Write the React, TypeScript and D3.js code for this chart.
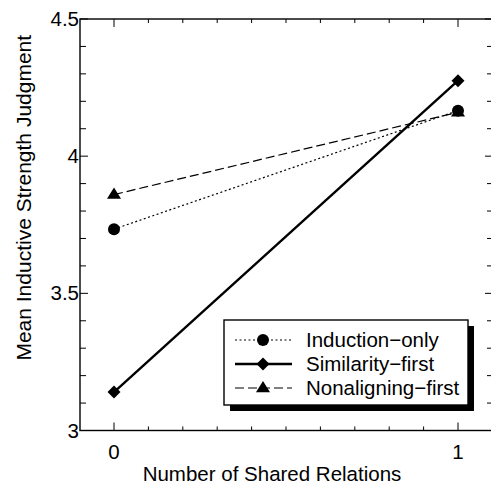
import React from 'react';
import * as d3 from 'd3';

// x = number of shared relations
const relations = [0, 1];
const seriesNames = ['Induction\u2212only', 'Similarity\u2212first', 'Nonaligning\u2212first'];
const inductionOnly = [3.734, 4.166];
const similarityFirst = [3.14, 4.275];
const nonaligningFirst = [3.86, 4.16];

const yTicksMajor = [3, 3.5, 4, 4.5];
const xTicksMajor = [0, 1];

const W = 491;
const H = 486;
const margin = { top: 19, right: -3, bottom: 55.5, left: 80 };
const FONT = 'Liberation Sans, Arial, Helvetica, sans-serif';

function Marker({ kind, x, y }: { kind: string; x: number; y: number }) {
  if (kind === 'circle') return <circle cx={x} cy={y} r={6} fill="#000" />;
  if (kind === 'diamond') {
    const s = 6.5;
    return <path d={`M${x},${y - s}L${x + s},${y}L${x},${y + s}L${x - s},${y}Z`} fill="#000" />;
  }
  const s = 7;
  return <path d={`M${x},${y - s}L${x + s},${y + s * 0.6}L${x - s},${y + s * 0.6}Z`} fill="#000" />;
}

export default function App() {
  // 0 and 1 sit at fixed pixel spots; the frame runs from -0.1 to the right edge
  const x = d3.scaleLinear().domain([0, 1]).range([114, 458]);
  const y = d3.scaleLinear().domain([3, 4.5]).range([H - margin.bottom, margin.top]);

  const series = [
    { name: seriesNames[0], values: inductionOnly, marker: 'circle', dash: '2,2.5', width: 1.2 },
    { name: seriesNames[1], values: similarityFirst, marker: 'diamond', dash: '', width: 2.4 },
    { name: seriesNames[2], values: nonaligningFirst, marker: 'triangle', dash: '9,4', width: 1.2 },
  ];

  const line = d3.line<number>().x((_, i) => x(relations[i])).y(d => y(d));

  const yMinor = d3.range(3, 4.5001, 0.1);
  const xMinor = d3.range(0, 1.0001, 0.1);
  const x0 = margin.left, x1 = W - margin.right, y0 = y(3), y1 = y(4.5);

  const isMajor = (v: number, arr: number[]) => arr.some(a => Math.abs(a - v) < 1e-6);

  // legend layout
  const lg = { x: 224, y: 320, w: 244, h: 85 };

  return (
    <svg width={W} height={H} style={{ position: 'absolute', left: 0, top: 0 }} fontFamily={FONT}>
      <rect width={W} height={H} fill="#fff" />

      {/* data */}
      {series.map(s => (
        <g key={s.name}>
          <path d={line(s.values) || ''} fill="none" stroke="#000" strokeWidth={s.width} strokeDasharray={s.dash || undefined} />
          {s.values.map((v, i) => (
            <Marker key={i} kind={s.marker} x={x(relations[i])} y={y(v)} />
          ))}
        </g>
      ))}

      {/* frame */}
      <rect x={x0} y={y1} width={x1 - x0} height={y0 - y1} fill="none" stroke="#000" strokeWidth={1.4} />

      {/* y ticks */}
      {yMinor.map(v => {
        const len = isMajor(v, yTicksMajor) ? 8 : 6;
        return (
          <g key={'y' + v}>
            <line x1={x0} x2={x0 + len} y1={y(v)} y2={y(v)} stroke="#000" strokeWidth={1} />
            <line x1={x1} x2={x1 - len - 1} y1={y(v)} y2={y(v)} stroke="#000" strokeWidth={1} />
          </g>
        );
      })}
      {yTicksMajor.map(v => (
        <text key={'yl' + v} x={x0 - 1} y={y(v) + 7} textAnchor="end" fontSize={20.5}>{String(v)}</text>
      ))}

      {/* x ticks */}
      {xMinor.map(v => {
        const len = isMajor(v, xTicksMajor) ? 8 : 4;
        return (
          <g key={'x' + v}>
            <line x1={x(v)} x2={x(v)} y1={y0} y2={y0 - len} stroke="#000" strokeWidth={1} />
            <line x1={x(v)} x2={x(v)} y1={y1} y2={y1 + len} stroke="#000" strokeWidth={1} />
          </g>
        );
      })}
      {xTicksMajor.map(v => (
        <text key={'xl' + v} x={x(v)} y={y0 + 28} textAnchor="middle" fontSize={20.5}>{String(v)}</text>
      ))}

      {/* axis titles */}
      <text x={272} y={481} textAnchor="middle" fontSize={20.5}>Number of Shared Relations</text>
      <text transform={`translate(31,${(y0 + y1) / 2 - 27}) rotate(-90)`} textAnchor="middle" fontSize={21}>
        Mean Inductive Strength Judgment
      </text>

      {/* legend */}
      <rect x={lg.x + 6} y={lg.y + 6} width={lg.w} height={lg.h} fill="#000" />
      <rect x={lg.x} y={lg.y} width={lg.w} height={lg.h} fill="#fff" stroke="#000" strokeWidth={1.4} />
      {series.map((s, i) => {
        const ly = lg.y + 20 + i * 24;
        return (
          <g key={'lg' + s.name}>
            <line x1={lg.x + 11} x2={lg.x + 68} y1={ly} y2={ly} stroke="#000" strokeWidth={s.width} strokeDasharray={s.dash || undefined} />
            <Marker kind={s.marker} x={lg.x + 39} y={ly} />
            <text x={lg.x + 82} y={ly + 7} fontSize={20.5}>{s.name}</text>
          </g>
        );
      })}
    </svg>
  );
}
